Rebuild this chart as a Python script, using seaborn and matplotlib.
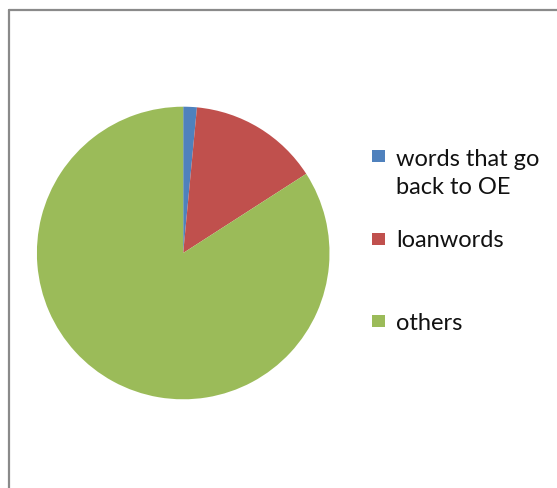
import matplotlib
matplotlib.use("Agg")
import matplotlib.pyplot as plt
from matplotlib.patches import Rectangle
from matplotlib.lines import Line2D
import seaborn as sns

# Share of the vocabulary by origin (percent)
categories = ["words that go\nback to OE", "loanwords", "others"]
shares = [1.5, 14.4, 84.1]
colors = ["#4F81BD", "#C0504D", "#9BBB59"]

sns.set_theme(style="white")
plt.rcParams["font.family"] = ["Lato", "DejaVu Sans"]

W, H = 557, 489
fig = plt.figure(figsize=(W / 100, H / 100), dpi=100)
fig.patch.set_facecolor("white")

# pie area: square box, placed in pixel terms
cx, cy, r = 183.2, 254.0, 146.3
ax = fig.add_axes([(cx - r) / W, (H - cy - r) / H, 2 * r / W, 2 * r / H])
ax.pie(shares, colors=colors, startangle=90, counterclock=False,
       radius=1.0, wedgeprops=dict(linewidth=0))
ax.set_xlim(-1, 1)
ax.set_ylim(-1, 1)
ax.set_aspect("equal")
ax.axis("off")

# chart-area border (runs off the right and bottom edges)
bx, by = 8.5, 11.0
fig.add_artist(Line2D([bx / W, 1.01], [1 - by / H, 1 - by / H],
                      transform=fig.transFigure, color="#8a8a8a", lw=1.6))
fig.add_artist(Line2D([bx / W, bx / W], [1 - by / H, -0.01],
                      transform=fig.transFigure, color="#8a8a8a", lw=1.6))

# legend: swatch plus label for each category
swatch_y = [157, 240, 322]
text_y = [[160, 188], [241], [323]]
for cat, col, sy, ty in zip(categories, colors, swatch_y, text_y):
    s = 12.5
    fig.add_artist(Rectangle((372 / W, 1 - (sy + s / 2) / H), s / W, s / H,
                             transform=fig.transFigure, facecolor=col,
                             edgecolor="none"))
    for line, yy in zip(cat.split("\n"), ty):
        fig.text(396 / W, 1 - yy / H, line, fontsize=17, color="#111111",
                 ha="left", va="center")

fig.savefig("out.png", dpi=100)
